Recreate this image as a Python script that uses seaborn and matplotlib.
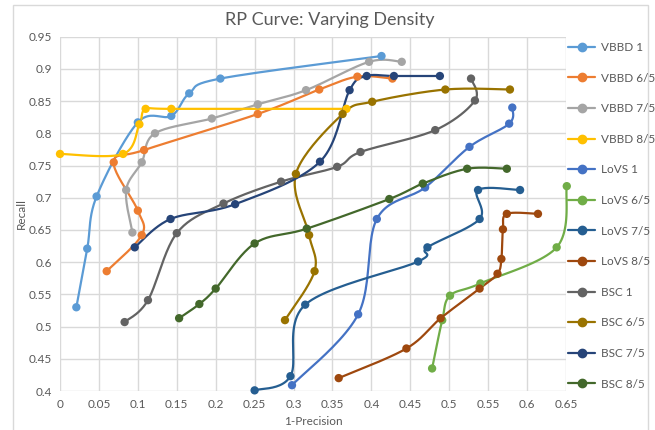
import numpy as np
import pandas as pd
import matplotlib
matplotlib.use("Agg")
import matplotlib.pyplot as plt
from matplotlib.lines import Line2D
from matplotlib.patches import Rectangle
import seaborn as sns

# ---- data: (1-Precision, Recall) per configuration ----
series_names = ["VBBD 1", "VBBD 6/5", "VBBD 7/5", "VBBD 8/5",
                "LoVS 1", "LoVS 6/5", "LoVS 7/5", "LoVS 8/5",
                "BSC 1", "BSC 6/5", "BSC 7/5", "BSC 8/5"]

vbbd_1_x = [0.021, 0.035, 0.047, 0.100, 0.143, 0.166, 0.206, 0.413]
vbbd_1_y = [0.530, 0.621, 0.702, 0.817, 0.827, 0.862, 0.885, 0.920]

vbbd_65_x = [0.060, 0.105, 0.100, 0.069, 0.108, 0.254, 0.333, 0.382, 0.427]
vbbd_65_y = [0.586, 0.642, 0.680, 0.755, 0.774, 0.830, 0.868, 0.888, 0.885]

vbbd_75_x = [0.093, 0.085, 0.105, 0.122, 0.195, 0.254, 0.316, 0.397, 0.439]
vbbd_75_y = [0.646, 0.712, 0.755, 0.800, 0.823, 0.845, 0.867, 0.911, 0.911]

vbbd_85_x = [0.000, 0.081, 0.102, 0.110, 0.143, 0.368]
vbbd_85_y = [0.768, 0.768, 0.814, 0.838, 0.838, 0.838]

lovs_1_x = [0.298, 0.383, 0.407, 0.469, 0.526, 0.577, 0.581]
lovs_1_y = [0.409, 0.519, 0.667, 0.716, 0.779, 0.815, 0.840]

lovs_65_x = [0.478, 0.491, 0.501, 0.540, 0.638, 0.651]
lovs_65_y = [0.435, 0.510, 0.548, 0.567, 0.623, 0.718]

lovs_75_x = [0.250, 0.296, 0.315, 0.460, 0.472, 0.539, 0.537, 0.591]
lovs_75_y = [0.401, 0.423, 0.534, 0.601, 0.623, 0.667, 0.712, 0.712]

lovs_85_x = [0.358, 0.445, 0.489, 0.539, 0.562, 0.567, 0.569, 0.574, 0.614]
lovs_85_y = [0.420, 0.466, 0.513, 0.559, 0.582, 0.605, 0.651, 0.675, 0.675]

bsc_1_x = [0.083, 0.113, 0.150, 0.210, 0.284, 0.356, 0.386, 0.482, 0.533, 0.528]
bsc_1_y = [0.507, 0.541, 0.645, 0.691, 0.725, 0.748, 0.771, 0.805, 0.851, 0.885]

bsc_65_x = [0.289, 0.327, 0.320, 0.303, 0.363, 0.401, 0.495, 0.578]
bsc_65_y = [0.510, 0.586, 0.642, 0.737, 0.830, 0.849, 0.868, 0.868]

bsc_75_x = [0.096, 0.142, 0.225, 0.334, 0.372, 0.394, 0.429, 0.488]
bsc_75_y = [0.623, 0.667, 0.690, 0.756, 0.867, 0.889, 0.889, 0.889]

bsc_85_x = [0.153, 0.179, 0.200, 0.250, 0.317, 0.423, 0.466, 0.523, 0.574]
bsc_85_y = [0.513, 0.535, 0.559, 0.629, 0.652, 0.698, 0.722, 0.745, 0.745]

colors = ["#5B9BD5", "#ED7D31", "#A5A5A5", "#FFC000",
          "#4472C4", "#70AD47", "#255E91", "#9E480E",
          "#636363", "#997300", "#264478", "#43682B"]

xs = [vbbd_1_x, vbbd_65_x, vbbd_75_x, vbbd_85_x, lovs_1_x, lovs_65_x,
      lovs_75_x, lovs_85_x, bsc_1_x, bsc_65_x, bsc_75_x, bsc_85_x]
ys = [vbbd_1_y, vbbd_65_y, vbbd_75_y, vbbd_85_y, lovs_1_y, lovs_65_y,
      lovs_75_y, lovs_85_y, bsc_1_y, bsc_65_y, bsc_75_y, bsc_85_y]

x_ticks = [0, 0.05, 0.1, 0.15, 0.2, 0.25, 0.3, 0.35, 0.4, 0.45, 0.5, 0.55, 0.6, 0.65]
y_ticks = [0.4, 0.45, 0.5, 0.55, 0.6, 0.65, 0.7, 0.75, 0.8, 0.85, 0.9, 0.95]


def smooth(px, py, sx=778.0, sy=644.0, n=24):
    """Catmull-Rom style smoothing done in display-scaled space."""
    p = np.column_stack([np.asarray(px) * sx, np.asarray(py) * sy])
    if len(p) < 3:
        return np.asarray(px), np.asarray(py)
    ext = np.vstack([p[0], p, p[-1]])
    out = []
    t = np.linspace(0, 1, n)[:, None]
    for i in range(1, len(ext) - 2):
        p0, p1, p2, p3 = ext[i - 1], ext[i], ext[i + 1], ext[i + 2]
        c1 = p1 + (p2 - p0) / 6.0
        c2 = p2 - (p3 - p1) / 6.0
        seg = ((1 - t) ** 3) * p1 + 3 * ((1 - t) ** 2) * t * c1 \
            + 3 * (1 - t) * t ** 2 * c2 + t ** 3 * p2
        out.append(seg if i == 1 else seg[1:])
    out = np.vstack(out)
    return out[:, 0] / sx, out[:, 1] / sy


curve_rows = []
point_rows = []
for name, x, y in zip(series_names, xs, ys):
    cx, cy = smooth(x, y)
    for i, (a, b) in enumerate(zip(cx, cy)):
        curve_rows.append({"series": name, "order": i, "x": a, "y": b})
    for a, b in zip(x, y):
        point_rows.append({"series": name, "x": a, "y": b})
curves = pd.DataFrame(curve_rows)
points = pd.DataFrame(point_rows)
palette = dict(zip(series_names, colors))

sns.set_theme(style="white")
plt.rcParams["font.family"] = ["Lato", "DejaVu Sans"]

fig = plt.figure(figsize=(6.55, 4.30), dpi=100)
ax = fig.add_axes([60 / 655, 1 - 391 / 430, (566 - 60) / 655, (391 - 36.7) / 430])

for name in series_names:
    sub_c = curves[curves.series == name]
    sub_p = points[points.series == name]
    sns.lineplot(data=sub_c, x="x", y="y", sort=False, estimator=None,
                 color=palette[name], lw=1.6, ax=ax, legend=False,
                 clip_on=False)
    sns.scatterplot(data=sub_p, x="x", y="y", color=palette[name], s=36,
                    edgecolor="none", ax=ax, legend=False, zorder=3,
                    clip_on=False)

ax.set_xlim(0, 0.65)
ax.set_ylim(0.4, 0.95)
ax.set_xticks(x_ticks)
ax.set_yticks(y_ticks)
ax.set_xticklabels([f"{v:g}" for v in x_ticks])
ax.set_yticklabels([f"{v:g}" for v in y_ticks])
ax.grid(True, color="#D9D9D9", lw=1)
ax.set_axisbelow(True)
for s in ax.spines.values():
    s.set_visible(False)
ax.tick_params(axis="both", length=0, labelsize=8.5, colors="#595959", pad=6)
ax.set_xlabel("1-Precision", fontsize=8.5, color="#595959", labelpad=4)
ax.set_ylabel("Recall", fontsize=8.5, color="#595959", labelpad=1)

fig.text(330 / 655, 1 - 20 / 430, "RP Curve: Varying Density", ha="center",
         va="center", fontsize=13, color="#595959")

handles = [Line2D([0], [0], color=c, lw=1.6, marker="o", ms=6) for c in colors]
fig.legend(handles, series_names, loc="upper left",
           bbox_to_anchor=(568 / 655, 1 - 42 / 430), frameon=False,
           fontsize=8.5, labelspacing=1.66, handlelength=2.3,
           handletextpad=0.5, borderaxespad=0, borderpad=0,
           labelcolor="#595959")

fig.patches.append(Rectangle((13 / 655, -0.01), (648 - 13) / 655, 1 - 5 / 430 + 0.01,
                             transform=fig.transFigure, fill=False,
                             edgecolor="#D9D9D9", lw=1))

fig.savefig("out.png", dpi=100)
